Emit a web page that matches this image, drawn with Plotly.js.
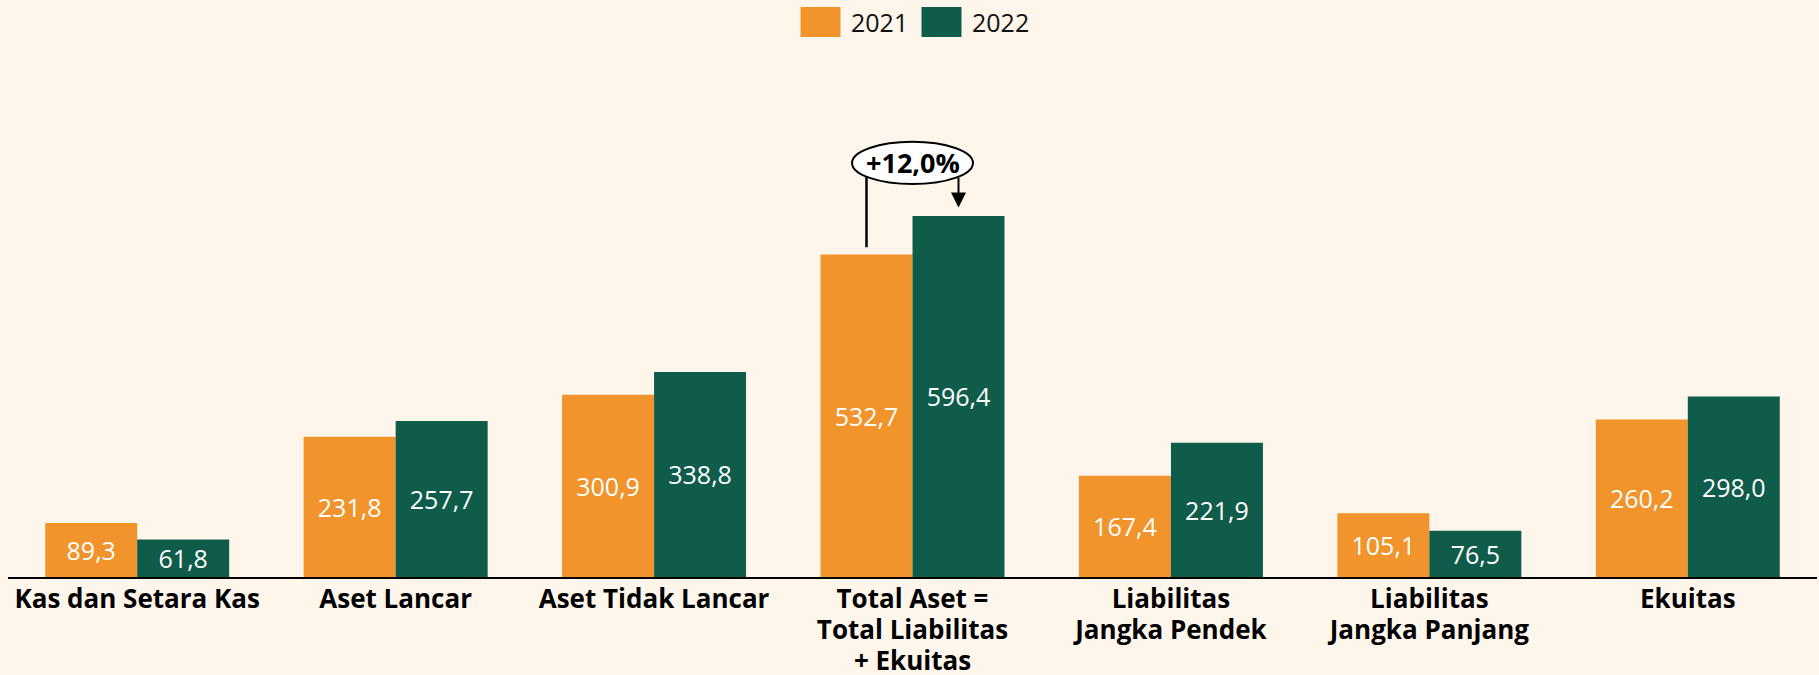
<!DOCTYPE html>
<html>
<head>
<meta charset="utf-8">
<script src="https://cdn.plot.ly/plotly-3.0.1.min.js"></script>
<style>
    html, body { margin: 0; padding: 0; background: #FEF6EB; }
    #chartDiv { width: 1819px; height: 675px; }
</style>
</head>
<body>
<div id="chartDiv"></div>
<script>
const categories = [
    "Kas dan Setara Kas",
    "Aset Lancar",
    "Aset Tidak Lancar",
    "Total Aset =<br>Total Liabilitas<br>+ Ekuitas",
    "Liabilitas<br>Jangka Pendek",
    "Liabilitas<br>Jangka Panjang",
    "Ekuitas"
]
const values2021 = [89.3, 231.8, 300.9, 532.7, 167.4, 105.1, 260.2]
const values2022 = [61.8, 257.7, 338.8, 596.4, 221.9, 76.5, 298.0]
const seriesNames = ["2021", "2022"]
const growthLabel = "+12,0%"

const orange = "#F0942B"
const green = "#0F5C4A"
const bg = "#FEF6EB"
const fontFamily = "'Open Sans', 'Noto Sans', sans-serif"

function makeBars(name, values, color) {
    return {
        type: 'bar',
        name: name,
        x: categories,
        y: values,
        marker: { color: color },
        texttemplate: '%{y:.1f}',
        textposition: 'inside',
        insidetextanchor: 'middle',
        constraintext: 'none',
        textfont: { color: '#ffffff', size: 25, family: fontFamily },
        showlegend: false,
        hoverinfo: 'skip'
    }
}

let plotData = [
    makeBars(seriesNames[0], values2021, orange),
    makeBars(seriesNames[1], values2022, green)
]

// bigger glyphs, but keep the line spacing of the base tick font
let tickText = categories.map(c =>
    c.split('<br>').map(l => '<span style="font-size:26px">' + l + '</span>').join('<br>'))

// annotation for the growth of total assets (category index 3)
const totalIdx = 3
const off = 0.178
const ellY = 684

let shapes = [
    // legend squares
    { type: 'rect', xref: 'paper', yref: 'paper', xsizemode: 'pixel', ysizemode: 'pixel',
      xanchor: 0.5, yanchor: 1, x0: -112, x1: -72, y0: 23, y1: 53,
      fillcolor: orange, line: { width: 0 } },
    { type: 'rect', xref: 'paper', yref: 'paper', xsizemode: 'pixel', ysizemode: 'pixel',
      xanchor: 0.5, yanchor: 1, x0: 9, x1: 49, y0: 23, y1: 53,
      fillcolor: green, line: { width: 0 } },
    // left line from the 2021 bar up to the ellipse
    { type: 'line', xref: 'x', yref: 'y',
      x0: totalIdx - off, x1: totalIdx - off,
      y0: values2021[totalIdx] + 12, y1: ellY - 22,
      line: { color: '#000', width: 2.5 } },
    // ellipse
    { type: 'circle', xref: 'x', yref: 'y',
      x0: totalIdx - 0.234, x1: totalIdx + 0.234, y0: ellY - 35, y1: ellY + 35,
      fillcolor: '#ffffff', line: { color: '#000', width: 2 }, layer: 'above' }
]

let annotations = [
    { xref: 'paper', yref: 'paper', x: 0.5, y: 1, xanchor: 'left', yanchor: 'middle',
      xshift: -64, yshift: 38, text: seriesNames[0], showarrow: false,
      font: { size: 25, color: '#111', family: fontFamily } },
    { xref: 'paper', yref: 'paper', x: 0.5, y: 1, xanchor: 'left', yanchor: 'middle',
      xshift: 57, yshift: 38, text: seriesNames[1], showarrow: false,
      font: { size: 25, color: '#111', family: fontFamily } },
    // arrow down to 2022 bar
    { xref: 'x', yref: 'y', axref: 'x', ayref: 'y',
      x: totalIdx + off, y: values2022[totalIdx] + 14,
      ax: totalIdx + off, ay: ellY - 22,
      text: '', showarrow: true, arrowhead: 2, arrowsize: 1.5, arrowwidth: 2,
      arrowcolor: '#000', standoff: 0, startstandoff: 0 },
    { xref: 'x', yref: 'y', x: totalIdx, y: ellY, text: '<b>' + growthLabel + '</b>',
      showarrow: false, font: { size: 27, color: '#000', family: fontFamily } }
]

let layout = {
    width: 1819,
    height: 675,
    paper_bgcolor: bg,
    plot_bgcolor: bg,
    separators: ',.',
    barmode: 'group',
    bargap: 0.288,
    bargroupgap: 0,
    margin: { l: 8, r: 2, t: 60, b: 98 },
    font: { family: fontFamily, color: '#000' },
    xaxis: {
        type: 'category',
        showline: true,
        linecolor: '#000',
        linewidth: 2,
        ticks: '',
        showgrid: false,
        tickvals: categories,
        ticktext: tickText,
        tickfont: { size: 24, family: fontFamily, color: '#000', weight: 'bold' },
        fixedrange: true
    },
    yaxis: {
        range: [0, 854],
        visible: false,
        showgrid: false,
        zeroline: false,
        fixedrange: true
    },
    shapes: shapes,
    annotations: annotations,
    showlegend: false
}

let config = { staticPlot: true, responsive: false }

Plotly.newPlot('chartDiv', plotData, layout, config)
</script>
</body>
</html>
